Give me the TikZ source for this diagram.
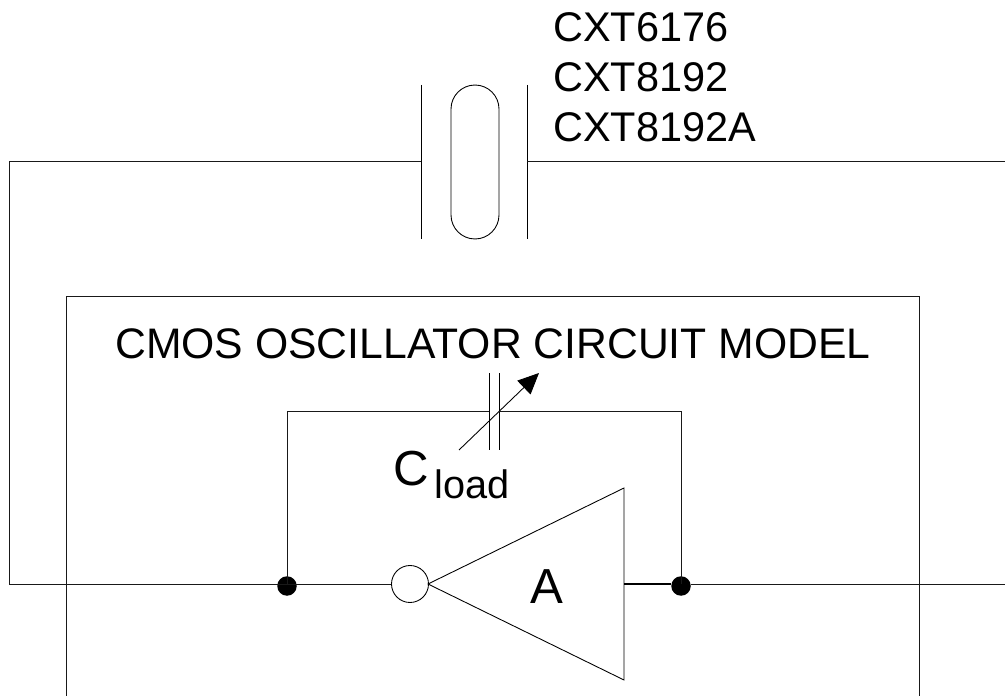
\documentclass[tikz,border=0pt]{standalone}
\usepackage{fontspec}
\setmainfont{Liberation Sans}
\usetikzlibrary{positioning, arrows.meta}

\begin{document}
\begin{tikzpicture}[x=0.02cm, y=-0.02cm]
	\tikzstyle{wire} = [draw, line width=0.5pt, black!90]
	\tikzstyle{plate} = [draw, line width=0.5pt]
	\tikzstyle{junction} = [circle, fill=black, inner sep=0pt, minimum size=0.39cm]
	\tikzstyle{label} = [inner sep=0pt, anchor=base west, font=\fontsize{23.6pt}{28pt}\selectfont]

	\useasboundingbox (0,0) rectangle (1005,696);

	% chip outline, open at the bottom
	\coordinate (chipbl) at (66,696);
	\coordinate (chiptl) at (66,296);
	\coordinate (chiptr) at (919,296);
	\coordinate (chipbr) at (919,696);
	\draw [wire] (chipbl) -- (chiptl) -- (chiptr) -- (chipbr);

	% crystal
	\node [draw, line width=0.5pt, rounded corners=0.48cm, minimum width=0.96cm, minimum height=3.08cm, inner sep=0pt] (crystal) at (475,162) {};
	\coordinate (platelt) at (421,85);
	\coordinate (platelb) at (421,239);
	\coordinate (platert) at (527,85);
	\coordinate (platerb) at (527,239);
	\coordinate (platel) at (421,161);
	\coordinate (plater) at (527,161);
	\draw [plate] (platelt) -- (platelb);
	\draw [plate] (platert) -- (platerb);

	% inverter
	\node [draw, circle, line width=0.5pt, inner sep=0pt, minimum size=0.74cm] (bubble) at (410,584) {};
	\coordinate (tip) at (428,584);
	\coordinate (invtop) at (624,488);
	\coordinate (invbot) at (624,680);
	\coordinate (invout) at (624,584);
	\draw [plate] (tip) -- (invtop) -- (invbot) -- cycle;
	\node [label, font=\fontsize{28pt}{32pt}\selectfont] (gain) at (530,603) {A};

	\node [junction] (nodein) at (287,586) {};
	\node [junction] (nodeout) at (681,586) {};

	% load capacitor
	\coordinate (capltop) at (489,373);
	\coordinate (caplbot) at (489,450);
	\coordinate (caprtop) at (499,373);
	\coordinate (caprbot) at (499,450);
	\coordinate (capl) at (489,411);
	\coordinate (capr) at (499,411);
	\draw [plate] (capltop) -- (caplbot);
	\draw [plate] (caprtop) -- (caprbot);
	\coordinate (tunefrom) at (459,450);
	\coordinate (tuneto) at (539,373);
	\draw [-{Triangle[length=0.42cm, width=0.38cm]}, line width=0.5pt] (tunefrom) -- (tuneto);

	% wires
	\coordinate (rightend) at (1005,161);
	\coordinate (leftcorner) at (9,161);
	\coordinate (leftlow) at (9,584);
	\coordinate (outend) at (1005,584);
	\draw [wire] (platel) -- (leftcorner) -- (leftlow) -- (bubble.west);
	\draw [wire] (plater) -- (rightend);
	\draw [wire] (nodein |- bubble) |- (capl);
	\draw [wire] (capr) -| (nodeout |- outend);
	\draw [draw, line width=0.8pt] (invout) -- (nodeout.west |- invout);
	\draw [wire] (nodeout.east |- outend) -- (outend);

	% labels
	\node [label] (part1) at (553,42) {CXT6176};
	\node [label] (part2) at (553,92) {CXT8192};
	\node [label] (part3) at (553,142) {CXT8192A};
	\node [label, font=\fontsize{24.3pt}{28pt}\selectfont] (title) at (115,358) {CMOS OSCILLATOR CIRCUIT MODEL};
	\node [label, font=\fontsize{28pt}{32pt}\selectfont] (cname) at (393,485) {C};
	\node [label, font=\fontsize{22.6pt}{28pt}\selectfont] (csub) at (434,498) {load};
\end{tikzpicture}
\end{document}
